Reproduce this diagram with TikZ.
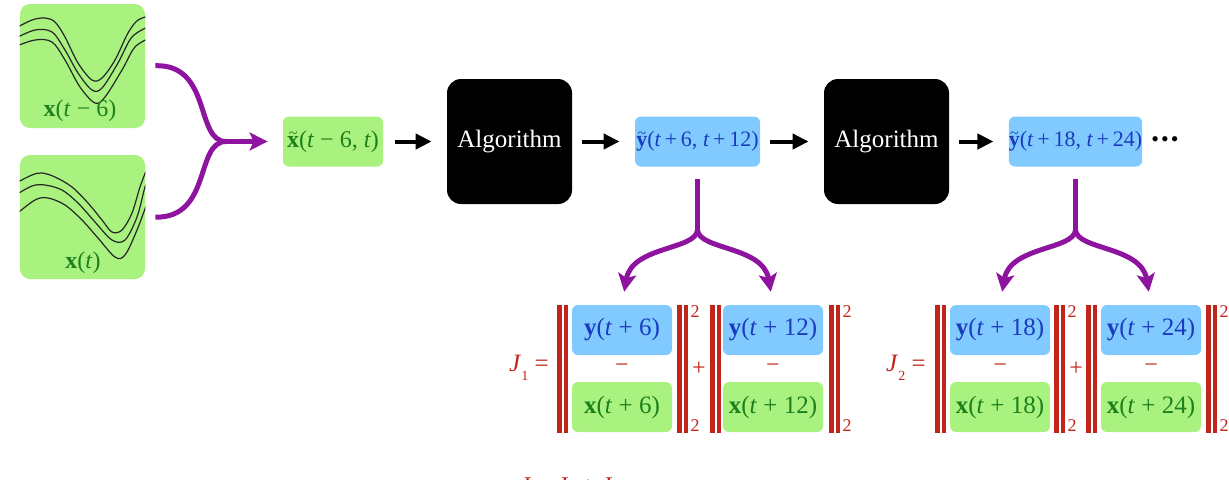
\documentclass[tikz,border=0pt]{standalone}
\usepackage{fontspec}
\setmainfont{Liberation Serif}
\usetikzlibrary{arrows.meta}

\definecolor{boxgreen}{RGB}{170,242,128}
\definecolor{boxblue}{RGB}{128,202,255}
\definecolor{txtgreen}{RGB}{28,128,28}
\definecolor{txtblue}{RGB}{28,58,190}
\definecolor{forkpurple}{RGB}{142,20,160}
\definecolor{normred}{RGB}{192,36,26}

% vector symbols set in text fonts
\newcommand\bx{\textbf{x}}
\newcommand\by{\textbf{y}}
\newcommand\ti{\textit{t}}
\newcommand\tildebold[1]{\ooalign{\textbf{#1}\cr\hidewidth\raisebox{0.36em}{\footnotesize\textasciitilde}\hidewidth\cr}}
\newcommand\sub[1]{\raisebox{-0.35em}{\scriptsize #1}}

\begin{document}
\begin{tikzpicture}[x=0.5pt,y=-0.5pt,
  font=\fontsize{12}{14}\selectfont,
  wavebox/.style={fill=boxgreen, rounded corners=5pt, minimum width=62.5pt,
    minimum height=62pt, inner sep=0pt},
  trace/.style={line width=0.6pt, black!85},
  gbox/.style={fill=boxgreen, rounded corners=3pt, inner sep=0pt,
    minimum height=25pt, text=txtgreen},
  bbox/.style={fill=boxblue, rounded corners=3pt, inner sep=0pt,
    minimum height=25pt, text=txtblue},
  algbox/.style={fill=black, rounded corners=7pt, minimum size=62.5pt,
    inner sep=0pt, text=white, font=\fontsize{12.5}{14}\selectfont},
  flow/.style={-{Triangle[length=8pt,width=7.5pt]}, line width=2pt},
  fork/.style={forkpurple, line width=2.5pt},
  forkarrow/.style={fork, -{Stealth[length=9pt,width=9pt,inset=2pt]}},
  normtext/.style={text=normred, inner sep=0pt},
  small2/.style={normtext, font=\fontsize{9}{10}\selectfont},
  pics/dbar/.style={code={
    \fill[normred] (-5.5,305) rectangle (-1,433);
    \fill[normred] (1,305) rectangle (5.5,433);}}
]
\clip (0,0) rectangle (1229,479);

% input windows with their traces
\node[wavebox] (wtop) at (82.5,66) {};
\node[wavebox] (wbot) at (82.5,217) {};
\begin{scope}
  \clip[rounded corners=5pt] (wtop.south west) rectangle (wtop.north east);
  \draw[trace] plot[smooth, tension=0.55] coordinates
    {(14,29) (32,20) (45,18) (55,22) (65,37) (78,63) (92,80) (102,78) (115,60) (128,33) (138,20) (150,16)};
  \draw[trace] plot[smooth, tension=0.55] coordinates
    {(14,39) (35,30) (52,32) (65,50) (78,73) (92,90) (102,88) (118,63) (132,37) (150,26)};
  \draw[trace] plot[smooth, tension=0.55] coordinates
    {(14,47) (35,40) (52,42) (65,60) (80,87) (95,103) (105,97) (122,70) (135,47) (150,38)};
\end{scope}
\begin{scope}
  \clip[rounded corners=5pt] (wbot.south west) rectangle (wbot.north east);
  \draw[trace] plot[smooth, tension=0.55] coordinates
    {(14,184) (32,175) (42,173) (55,177) (72,187) (88,203) (102,220) (112,232) (122,230) (132,213) (140,187) (148,166)};
  \draw[trace] plot[smooth, tension=0.55] coordinates
    {(14,196) (32,186) (45,185) (62,190) (78,203) (95,222) (112,240) (125,240) (137,217) (145,187) (149,178)};
  \draw[trace] plot[smooth, tension=0.55] coordinates
    {(14,216) (35,200) (48,198) (65,205) (82,220) (98,238) (115,257) (125,255) (137,230) (150,195)};
\end{scope}
\node[text=txtgreen, inner sep=0pt] (ltop) at (80,111) {\bx(\ti{} − 6)};
\node[text=txtgreen, inner sep=0pt] (lbot) at (83,263) {\bx(\ti)};

% processing chain
\node[gbox, minimum width=50pt] (xin) at (333,141.5) {\tildebold{x}(\ti{} − 6, \ti)};
\node[algbox] (alg1) at (509.5,141.5) {Algorithm};
\node[bbox, minimum width=62.5pt, font=\fontsize{11}{13}\selectfont] (yo1) at (697.5,141.5)
  {\tildebold{y}(\ti\,+\,6, \ti\,+\,12)};
\node[algbox] (alg2) at (886.5,141.5) {Algorithm};
\node[bbox, minimum width=62.5pt, font=\fontsize{11}{13}\selectfont] (yo2) at (1075.5,141.5)
  {\tildebold{y}(\ti\,+\,18, \ti\,+\,24)};
\node[inner sep=0pt, font=\fontsize{11}{12}\selectfont] (dots) at (1165,142)
  {\textbullet\hspace{1pt}\textbullet\hspace{1pt}\textbullet};

\draw[flow, shorten <=6pt, shorten >=7.5pt] (xin) -- (alg1);
\draw[flow, shorten <=5pt, shorten >=7.5pt] (alg1) -- (yo1);
\draw[flow, shorten <=5pt, shorten >=7.5pt] (yo1) -- (alg2);
\draw[flow, shorten <=5pt, shorten >=7.5pt] (alg2) -- (yo2);

% merging the two windows
\coordinate (mj) at (226,141.5);
\draw[fork, shorten <=5pt] (wtop.east) .. controls (212,64) and (195,141.5) .. (mj);
\draw[fork, shorten <=5pt] (wbot.east) .. controls (212,218) and (195,141.5) .. (mj);
\draw[forkarrow, shorten >=7.5pt] (mj) -- (xin.west);

% first cost term
\node[bbox, minimum width=50pt, font=\fontsize{12.5}{14}\selectfont] (ya) at (622,330) {\by(\ti{} + 6)};
\node[gbox, minimum width=50pt, font=\fontsize{12.5}{14}\selectfont] (xa) at (622,407) {\bx(\ti{} + 6)};
\node[bbox, minimum width=50pt, font=\fontsize{12.5}{14}\selectfont] (yb) at (773,330) {\by(\ti{} + 12)};
\node[gbox, minimum width=50pt, font=\fontsize{12.5}{14}\selectfont] (xb) at (773,407) {\bx(\ti{} + 12)};
\node[normtext] (ma) at (622,368) {−};
\node[normtext] (mb) at (773,368) {−};
\node[normtext, anchor=east, font=\fontsize{12.5}{14}\selectfont] (j1) at (549,368) {\textit{J}\sub{1} =};
\pic at (562.5,0) {dbar};
\pic at (682.5,0) {dbar};
\pic at (715.5,0) {dbar};
\pic at (834.5,0) {dbar};
\node[normtext] (pa) at (699,369) {+};
\node[small2] (sa1) at (695,312) {2};
\node[small2] (sa2) at (695,426) {2};
\node[small2] (sb1) at (847,312) {2};
\node[small2] (sb2) at (847,426) {2};

% second cost term
\node[bbox, minimum width=50pt, font=\fontsize{12.5}{14}\selectfont] (yc) at (1000,330) {\by(\ti{} + 18)};
\node[gbox, minimum width=50pt, font=\fontsize{12.5}{14}\selectfont] (xc) at (1000,407) {\bx(\ti{} + 18)};
\node[bbox, minimum width=50pt, font=\fontsize{12.5}{14}\selectfont] (yd) at (1151,330) {\by(\ti{} + 24)};
\node[gbox, minimum width=50pt, font=\fontsize{12.5}{14}\selectfont] (xd) at (1151,407) {\bx(\ti{} + 24)};
\node[normtext] (mc) at (1000,368) {−};
\node[normtext] (md) at (1151,368) {−};
\node[normtext, anchor=east, font=\fontsize{12.5}{14}\selectfont] (j2) at (926,368) {\textit{J}\sub{2} =};
\pic at (940.5,0) {dbar};
\pic at (1059.5,0) {dbar};
\pic at (1091.5,0) {dbar};
\pic at (1211.5,0) {dbar};
\node[normtext] (pc) at (1076,369) {+};
\node[small2] (sc1) at (1072,312) {2};
\node[small2] (sc2) at (1072,426) {2};
\node[small2] (sd1) at (1224,312) {2};
\node[small2] (sd2) at (1224,426) {2};

% splitting each prediction towards its two terms
\coordinate (s1) at (697.5,230);
\draw[fork, shorten <=6pt] (yo1.south) -- (s1);
\draw[forkarrow, shorten >=6.5pt] (s1) .. controls (696,250) and (632,246) .. (ya.north);
\draw[forkarrow, shorten >=6.5pt] (s1) .. controls (699,250) and (763,246) .. (yb.north);
\coordinate (s2) at (1075.5,230);
\draw[fork, shorten <=6pt] (yo2.south) -- (s2);
\draw[forkarrow, shorten >=6.5pt] (s2) .. controls (1074,250) and (1010,246) .. (yc.north);
\draw[forkarrow, shorten >=6.5pt] (s2) .. controls (1077,250) and (1141,246) .. (yd.north);

% total cost, running off the lower edge
\node[normtext, anchor=base west] (jt) at (519,493)
  {\textit{J} = \textit{J}\sub{1} + \textit{J}\sub{2}};
\end{tikzpicture}
\end{document}
